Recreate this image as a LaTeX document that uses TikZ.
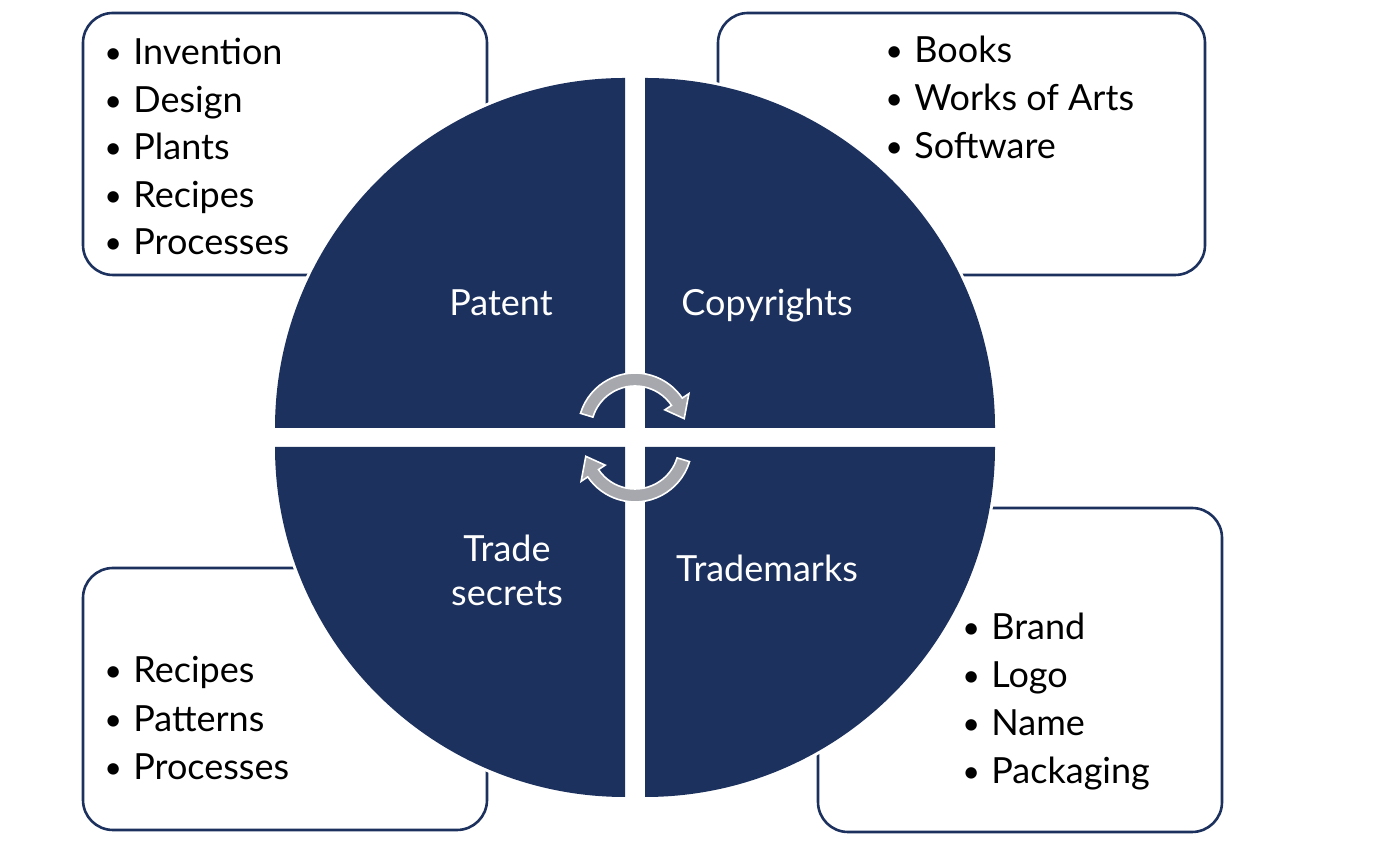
\documentclass[tikz,border=0pt]{standalone}
\usepackage{fontspec}
\setmainfont{Lato}
\definecolor{navy}{HTML}{1C315E}
\definecolor{arrowgray}{HTML}{A6A8AD}
\begin{document}
\begin{tikzpicture}[x=0.5pt,y=0.5pt,font=\fontsize{18}{22}\selectfont]
\tikzstyle{box}=[draw=navy,line width=1.3pt,rounded corners=15pt,fill=white]
\tikzstyle{quad}=[fill=navy,preaction={draw=white,line width=3pt}]
\tikzstyle{item}=[anchor=base west,inner sep=0pt]
\tikzstyle{lab}=[text=white,align=center,inner sep=0pt]
\tikzstyle{cyc}=[fill=arrowgray,draw=white,line width=0.8pt]
\newcommand{\bul}{\makebox[14.5pt][l]{\raisebox{0.5pt}{\scalebox{0.85}{\textbullet}}}}
\useasboundingbox (0,0) rectangle (1379,849);
\draw[box] (83,574) rectangle (487,836);
\draw[box] (718,574) rectangle (1205,836);
\draw[box] (83,19) rectangle (487,281);
\draw[box] (818,17) rectangle (1222,341);
\foreach \t [count=\i] in {Invention,Design,Plants,Recipes,Processes}
  \node[item] (pat\i) at (104,{784-47.5*(\i-1)}) {\bul\t};
\foreach \t [count=\i] in {Books,Works of Arts,Software}
  \node[item] (cop\i) at (885,{786-48*(\i-1)}) {\bul\t};
\foreach \t [count=\i] in {Recipes,Patterns,Processes}
  \node[item] (sec\i) at (104,{166-48.5*(\i-1)}) {\bul\t};
\foreach \t [count=\i] in {Brand,Logo,Name,Packaging}
  \node[item] (tm\i) at (962,{209-48*(\i-1)}) {\bul\t};
\path[quad] (625,421) -- (275,421) arc[start angle=180,end angle=90,radius=350] -- cycle;
\path[quad] (645,421) -- (645,771) arc[start angle=90,end angle=0,radius=350] -- cycle;
\path[quad] (625,402) -- (625,52) arc[start angle=270,end angle=180,radius=350] -- cycle;
\path[quad] (645,402) -- (995,402) arc[start angle=0,end angle=-90,radius=350] -- cycle;
\node[lab,anchor=base] (patent) at (501,533) {Patent};
\node[lab,anchor=base] (copyright) at (767,533) {Copyrights};
\node[lab] (secret) at (507,279) {Trade\\secrets};
\node[lab,anchor=base] (trademark) at (767,267) {Trademarks};
\coordinate (c1) at (635,419);
\coordinate (c2) at (635,404);
\path[cyc] ([shift={(c1)}]163:57) arc[start angle=163,end angle=34,radius=57]
  -- ([shift={(c1)}]34:65) -- ([shift={(c1)}]13:50.5) -- ([shift={(c1)}]34:36)
  -- ([shift={(c1)}]34:44) arc[start angle=34,end angle=163,radius=44] -- cycle;
\path[cyc] ([shift={(c2)}]-17:57) arc[start angle=-17,end angle=-146,radius=57]
  -- ([shift={(c2)}]-146:65) -- ([shift={(c2)}]-167:50.5) -- ([shift={(c2)}]-146:36)
  -- ([shift={(c2)}]-146:44) arc[start angle=-146,end angle=-17,radius=44] -- cycle;
\end{tikzpicture}
\end{document}
